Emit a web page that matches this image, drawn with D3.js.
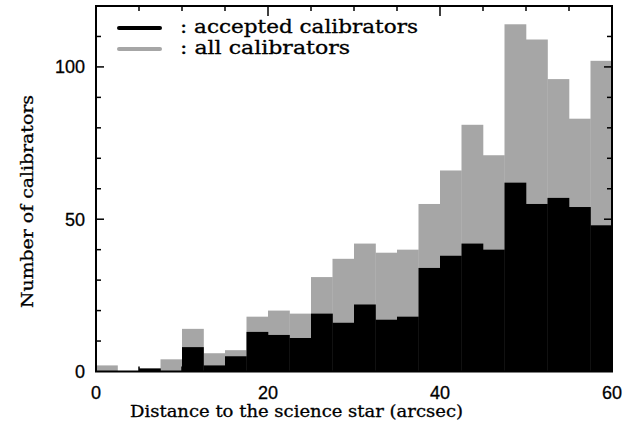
<!DOCTYPE html>
<html>
<head>
<meta charset="utf-8">
<script src="https://cdn.jsdelivr.net/npm/d3@7"></script>
<style>
  html, body { margin: 0; padding: 0; background: #fff; }
  svg { display: block; }
</style>
</head>
<body>
<svg id="chart" width="625" height="428"></svg>
<script>
// Bin edges (arcsec), width 2.5
const binStarts = [0, 2.5, 5, 7.5, 10, 12.5, 15, 17.5, 20, 22.5, 25, 27.5,
                   30, 32.5, 35, 37.5, 40, 42.5, 45, 47.5, 50, 52.5, 55, 57.5];
const binWidth = 2.5;
const allCalibrators = [2, 0, 1, 4, 14, 6, 7, 18, 20, 19, 31, 37,
                        42, 39, 40, 55, 66, 81, 71, 114, 109, 96, 83, 102];
const acceptedCalibrators = [0, 0, 1, 0, 8, 2, 5, 13, 12, 11, 19, 16,
                             22, 17, 18, 34, 38, 42, 40, 62, 55, 57, 54, 48];
const xTickLabels = [0, 20, 40, 60];
const yTickLabels = [0, 50, 100];
const legendLabels = [": accepted calibrators", ": all calibrators"];
const xTitle = "Distance to the science star (arcsec)";
const yTitle = "Number of calibrators";

const svg = d3.select("#chart");
const L = 96, R = 612, T = 6, B = 371.5;
const x = d3.scaleLinear().domain([0, 60]).range([L, R]);
const y = d3.scaleLinear().domain([0, 120]).range([B, T]);
const gray = "#a6a6a6";

// gray histogram
svg.append("g").selectAll("rect").data(binStarts).join("rect")
  .attr("x", (d) => x(d))
  .attr("width", (d) => x(d + binWidth) - x(d) + 0.3)
  .attr("y", (d, i) => y(allCalibrators[i]))
  .attr("height", (d, i) => y(0) - y(allCalibrators[i]))
  .attr("fill", gray);

// black histogram
svg.append("g").selectAll("rect").data(binStarts).join("rect")
  .attr("x", (d) => x(d))
  .attr("width", (d) => x(d + binWidth) - x(d) + 0.3)
  .attr("y", (d, i) => y(acceptedCalibrators[i]))
  .attr("height", (d, i) => y(0) - y(acceptedCalibrators[i]))
  .attr("fill", "#000");

// frame
svg.append("rect").attr("x", L).attr("y", T).attr("width", R - L).attr("height", B - T)
  .attr("fill", "none").attr("stroke", "#000").attr("stroke-width", 2);

// ticks
const xMinor = d3.range(5, 60, 5);
const yMinor = d3.range(10, 120, 10);
const tg = svg.append("g").attr("stroke", "#000").attr("stroke-width", 1.5);
xMinor.forEach(v => {
  const len = v % 20 === 0 ? 10 : 5;
  tg.append("line").attr("x1", x(v)).attr("x2", x(v)).attr("y1", B).attr("y2", B - len);
  tg.append("line").attr("x1", x(v)).attr("x2", x(v)).attr("y1", T).attr("y2", T + len);
});
yMinor.forEach(v => {
  const len = v % 50 === 0 ? 8 : 5;
  tg.append("line").attr("x1", L).attr("x2", L + len).attr("y1", y(v)).attr("y2", y(v));
  tg.append("line").attr("x1", R).attr("x2", R - len).attr("y1", y(v)).attr("y2", y(v));
});

// tick labels
const labFont = "'Liberation Sans', Arial, sans-serif";
svg.append("g").selectAll("text").data(xTickLabels).join("text")
  .attr("x", d => x(d)).attr("y", 399)
  .attr("text-anchor", "middle")
  .attr("font-family", labFont).attr("font-size", 18)
  .attr("stroke", "#000").attr("stroke-width", 0.3)
  .text(d => d);
svg.append("g").selectAll("text").data(yTickLabels).join("text")
  .attr("x", 85).attr("y", d => y(d) + 6.5)
  .attr("text-anchor", "end")
  .attr("font-family", labFont).attr("font-size", 18)
  .attr("stroke", "#000").attr("stroke-width", 0.3)
  .text(d => d);

// titles
const titleFont = "'DejaVu Serif', serif";
svg.append("text").attr("x", 130).attr("y", 417)
  .attr("font-family", titleFont).attr("font-size", 16.5)
  .attr("stroke", "#000").attr("stroke-width", 0.3)
  .attr("textLength", 333).attr("lengthAdjust", "spacingAndGlyphs")
  .text(xTitle);
svg.append("text")
  .attr("transform", "translate(33,308) rotate(-90)")
  .attr("font-family", titleFont).attr("font-size", 17)
  .attr("stroke", "#000").attr("stroke-width", 0.3)
  .attr("textLength", 213).attr("lengthAdjust", "spacingAndGlyphs")
  .text(yTitle);

// legend
const legColors = ["#000", gray];
const legWidths = [238, 170];
legendLabels.forEach((lab, i) => {
  const ly = 28 + i * 21;
  svg.append("line").attr("x1", 119).attr("x2", 160).attr("y1", ly).attr("y2", ly)
    .attr("stroke", legColors[i]).attr("stroke-width", 4).attr("stroke-linecap", "round");
  svg.append("text").attr("x", 180).attr("y", ly + 5)
    .attr("font-family", titleFont).attr("font-size", 18)
    .attr("stroke", "#000").attr("stroke-width", 0.3)
    .attr("textLength", legWidths[i]).attr("lengthAdjust", "spacingAndGlyphs")
    .text(lab);
});
</script>
</body>
</html>
